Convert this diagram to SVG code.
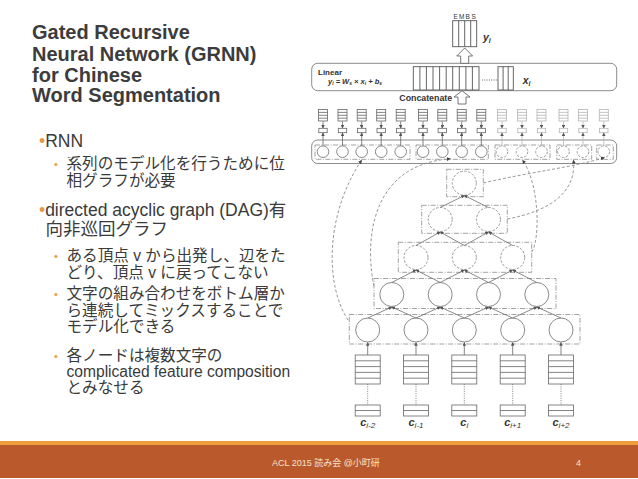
<svg xmlns="http://www.w3.org/2000/svg" xmlns:xlink="http://www.w3.org/1999/xlink" width="638" height="479" viewBox="0 0 638 479">
<style>
.ttl{font-family:"Liberation Sans",Arial,sans-serif;font-weight:bold;font-size:20px;fill:#3c3c3c}
.b1{font-family:"Liberation Sans","Noto Sans CJK JP",sans-serif;font-size:17.5px;fill:#3a3a3a}
.b2{font-family:"Liberation Sans","Noto Sans CJK JP",sans-serif;font-size:15.6px;fill:#3a3a3a}
.or{fill:#E39A43}
.dot{font-family:"Liberation Sans",sans-serif;font-size:11px;fill:#E39A43}
.ft{font-family:"Liberation Sans","Noto Sans CJK JP",sans-serif;font-size:9px;fill:#F6E2D3}
.dg{font-family:"Liberation Sans",sans-serif;fill:#333}
.ln{fill:none;stroke:#6d6d6d;stroke-width:0.8}
.lnd{fill:none;stroke:#555;stroke-width:0.9}
.dd{fill:none;stroke:#8c8c8c;stroke-width:0.8;stroke-dasharray:5 1.5 1 1.5}
.dc{fill:none;stroke:#8c8c8c;stroke-width:0.9;stroke-dasharray:3 2}
.cs{fill:#fff;stroke:#7d7d7d;stroke-width:0.9}
.cd{fill:#fff;stroke:#8c8c8c;stroke-width:0.9;stroke-dasharray:2.5 1.5}
</style>
<defs>
<marker id="ah" viewBox="0 0 6 6" refX="5.5" refY="3" markerWidth="3.5" markerHeight="3.5" orient="auto" markerUnits="userSpaceOnUse"><path d="M0,0L6,3L0,6z" fill="#555"/></marker>
<marker id="ahc" viewBox="0 0 6 6" refX="5.5" refY="3" markerWidth="4" markerHeight="4" orient="auto" markerUnits="userSpaceOnUse"><path d="M0,0L6,3L0,6z" fill="#444"/></marker>
<g id="colA" fill="#fff">
<rect x="-4.5" y="109.5" width="9" height="11.5"/>
<path d="M-4.5,112.4h9M-4.5,115.3h9M-4.5,118.2h9" fill="none"/>
<line x1="0" y1="121.5" x2="0" y2="128.3" marker-end="url(#ah)"/>
<rect x="-4.2" y="128.3" width="8.4" height="4.4"/>
<line x1="0" y1="145.9" x2="0" y2="132.7" marker-end="url(#ah)"/>
</g>
<g id="inp" fill="#fff">
<line x1="0" y1="355" x2="0" y2="342.5" marker-end="url(#ah)"/>
<rect x="-12.5" y="355" width="25" height="29"/>
<path d="M-12.5,360.8h25M-12.5,366.6h25M-12.5,372.4h25M-12.5,378.2h25" fill="none"/>
<line x1="0" y1="384" x2="0" y2="405" stroke-dasharray="1 1.3"/>
<rect x="-12.5" y="405" width="25" height="11"/>
<path d="M-12.5,410.5h25" fill="none"/>
</g>
</defs>
<rect width="638" height="479" fill="#fff"/>

<g id="title" class="ttl">
<text x="32" y="39">Gated Recursive</text>
<text x="32" y="60.5">Neural Network (GRNN)</text>
<text x="32" y="81.5">for Chinese</text>
<text x="32" y="102">Word Segmentation</text>
</g>

<g id="bullets">
<text class="b1" x="39" y="147"><tspan class="or">•</tspan>RNN</text>
<text class="dot" x="54" y="168">•</text>
<text class="b2" x="66.5" y="169">系列のモデル化を行うために位</text>
<text class="b2" x="66.5" y="186">相グラフが必要</text>
<text class="b1" x="39" y="215.5"><tspan class="or">•</tspan>directed acyclic graph (DAG)有</text>
<text class="b1" x="45.5" y="234.5">向非巡回グラフ</text>
<text class="dot" x="54" y="260">•</text>
<text class="b2" x="66.5" y="261">ある頂点 v から出発し、辺をた</text>
<text class="b2" x="66.5" y="277.5">どり、頂点 v に戻ってこない</text>
<text class="dot" x="54" y="298">•</text>
<text class="b2" x="66.5" y="299">文字の組み合わせをボトム層か</text>
<text class="b2" x="66.5" y="315.5">ら連続してミックスすることで</text>
<text class="b2" x="66.5" y="332">モデル化できる</text>
<text class="dot" x="54" y="359.5">•</text>
<text class="b2" x="66.5" y="360.5">各ノードは複数文字の</text>
<text class="b2" x="66.5" y="376.5">complicated feature composition</text>
<text class="b2" x="66.5" y="393">とみなせる</text>
</g>

<g id="output-yi">
<text class="dg" font-size="6.5" text-anchor="middle" y="19"><tspan x="455.7">E</tspan><tspan x="461.7">M</tspan><tspan x="467.7">B</tspan><tspan x="473.7">S</tspan></text>
<rect class="lnd" x="452.7" y="20.7" width="24" height="26"/>
<path class="lnd" d="M458.7,20.7v26M464.7,20.7v26M470.7,20.7v26"/>
<text class="dg" x="483" y="41" font-size="10.5" font-weight="bold" font-style="italic">y<tspan font-size="7" dy="2">i</tspan></text>
</g>

<g id="linear">
<rect class="ln" x="311.7" y="63.3" width="305" height="27.4" rx="6"/>
<text class="dg" x="318" y="74.5" font-size="8" font-weight="bold">Linear</text>
<text class="dg" x="328" y="83.5" font-size="7.5" font-weight="bold" font-style="italic">y<tspan font-size="5" dy="1.5">i</tspan><tspan dy="-1.5"> = W</tspan><tspan font-size="5" dy="1.5">s</tspan><tspan dy="-1.5">  ×  x</tspan><tspan font-size="5" dy="1.5">i</tspan><tspan dy="-1.5"> + b</tspan><tspan font-size="5" dy="1.5">s</tspan></text>
<rect class="lnd" x="413.3" y="66.7" width="65.7" height="23.3" fill="#fff"/>
<path class="lnd" d="M419.9,66.7v23.3M426.4,66.7v23.3M433,66.7v23.3M439.6,66.7v23.3M446.2,66.7v23.3M452.7,66.7v23.3M459.3,66.7v23.3M465.9,66.7v23.3M472.4,66.7v23.3"/>
<line x1="482" y1="80" x2="497" y2="80" stroke="#555" stroke-width="0.9" stroke-dasharray="1 1.3"/>
<rect class="lnd" x="498" y="66.7" width="15.3" height="23.3" fill="#fff"/>
<path class="lnd" d="M503.1,66.7v23.3M508.2,66.7v23.3"/>
<text class="dg" x="522.7" y="84" font-size="10.5" font-weight="bold" font-style="italic">x<tspan font-size="7" dy="2">i</tspan></text>
<text class="dg" x="399.3" y="100.5" font-size="8.8" font-weight="bold">Concatenate</text>
</g>

<g id="hidden-row">
<rect class="ln" x="311.7" y="140" width="305" height="23.5" rx="6"/>
<rect class="dd" x="315" y="145" width="95" height="14.3"/>
<rect class="dd" x="416" y="145" width="72.3" height="14.3"/>
<rect class="dd" x="495" y="145" width="55" height="14.3" stroke="#aaa"/>
<rect class="dd" x="556.7" y="145" width="35" height="14.3" stroke="#aaa"/>
<rect class="dd" x="596.7" y="145" width="16.6" height="14.3" stroke="#aaa"/>
<g stroke="#666" stroke-width="0.8">
<use xlink:href="#colA" x="323"/><use xlink:href="#colA" x="342.5"/><use xlink:href="#colA" x="361.7"/><use xlink:href="#colA" x="381.2"/><use xlink:href="#colA" x="400.7"/><use xlink:href="#colA" x="423"/><use xlink:href="#colA" x="442.3"/><use xlink:href="#colA" x="461.7"/><use xlink:href="#colA" x="481.3"/>
</g>
<g stroke="#b5b5b5" stroke-width="0.8">
<use xlink:href="#colA" x="502"/><use xlink:href="#colA" x="522"/><use xlink:href="#colA" x="541.5"/><use xlink:href="#colA" x="563.5"/><use xlink:href="#colA" x="583"/><use xlink:href="#colA" x="603.8"/>
</g>
<g class="cs">
<circle cx="323" cy="151.7" r="5.8"/><circle cx="342.5" cy="151.7" r="5.8"/><circle cx="361.7" cy="151.7" r="5.8"/><circle cx="381.2" cy="151.7" r="5.8"/><circle cx="400.7" cy="151.7" r="5.8"/><circle cx="423" cy="151.7" r="5.8"/><circle cx="442.3" cy="151.7" r="5.8"/><circle cx="461.7" cy="151.7" r="5.8"/><circle cx="481.3" cy="151.7" r="5.8"/>
</g>
<g class="cd" stroke="#aaa">
<circle cx="502" cy="151.7" r="5.8"/><circle cx="522" cy="151.7" r="5.8"/><circle cx="541.5" cy="151.7" r="5.8"/><circle cx="563.5" cy="151.7" r="5.8"/><circle cx="583" cy="151.7" r="5.8"/><circle cx="603.8" cy="151.7" r="5.8"/>
</g>
</g>

<g id="arrows-hollow" fill="#fff" stroke="#666" stroke-width="0.9">
<path d="M464.7,48L472.7,56H468.7V63.3H460.7V56H456.7Z"/>
<path d="M462,90.8L470,97H466V104H458V97H454Z"/>
</g>

<g id="level1">
<rect class="dd" x="446.7" y="169.3" width="36.6" height="27.4"/>
<circle class="cd" cx="464.3" cy="183.2" r="12"/>
</g>
<g id="level2">
<rect class="dd" x="421.7" y="205.3" width="85.6" height="28"/>
<circle class="cd" cx="440.2" cy="219.5" r="12"/>
<circle class="cd" cx="488.5" cy="219.5" r="12"/>
</g>
<g id="level3">
<rect class="dd" x="398.3" y="242.3" width="133.4" height="30"/>
<circle class="cd" cx="416" cy="257.5" r="12"/>
<circle class="cd" cx="464.3" cy="257.5" r="12"/>
<circle class="cd" cx="512.7" cy="257.5" r="12"/>
</g>
<g id="level4">
<rect class="dd" x="374" y="278.5" width="182" height="30"/>
<circle class="cs" cx="391.8" cy="294.5" r="12"/>
<circle class="cs" cx="440.2" cy="294.5" r="12"/>
<circle class="cs" cx="488.5" cy="294.5" r="12"/>
<circle class="cs" cx="536.8" cy="294.5" r="12"/>
</g>
<g id="level5">
<rect class="dd" x="349.3" y="314.5" width="230.7" height="29.5"/>
<circle class="cs" cx="367.7" cy="330" r="12"/>
<circle class="cs" cx="416" cy="330" r="12"/>
<circle class="cs" cx="464.3" cy="330" r="12"/>
<circle class="cs" cx="512.7" cy="330" r="12"/>
<circle class="cs" cx="561" cy="330" r="12"/>
</g>

<g id="inputs" stroke="#666" stroke-width="0.8">
<use xlink:href="#inp" x="367.7"/><use xlink:href="#inp" x="416"/><use xlink:href="#inp" x="464.3"/><use xlink:href="#inp" x="512.7"/><use xlink:href="#inp" x="561"/>
</g>
<g id="input-labels" class="dg" font-weight="bold" font-style="italic" font-size="11" text-anchor="middle">
<text x="367.7" y="426">c<tspan font-size="8" font-weight="normal" dy="1.5">i-2</tspan></text>
<text x="416" y="426">c<tspan font-size="8" font-weight="normal" dy="1.5">i-1</tspan></text>
<text x="464.3" y="426">c<tspan font-size="8" font-weight="normal" dy="1.5">i</tspan></text>
<text x="512.7" y="426">c<tspan font-size="8" font-weight="normal" dy="1.5">i+1</tspan></text>
<text x="561" y="426">c<tspan font-size="8" font-weight="normal" dy="1.5">i+2</tspan></text>
</g>

<g id="connectors">
<g class="ln" stroke="#808080">
<line x1="367.7" y1="318" x2="391.8" y2="307" marker-end="url(#ah)"/><line x1="416" y1="318" x2="391.8" y2="307" marker-end="url(#ah)"/>
<line x1="416" y1="318" x2="440.2" y2="307" marker-end="url(#ah)"/><line x1="464.3" y1="318" x2="440.2" y2="307" marker-end="url(#ah)"/>
<line x1="464.3" y1="318" x2="488.5" y2="307" marker-end="url(#ah)"/><line x1="512.7" y1="318" x2="488.5" y2="307" marker-end="url(#ah)"/>
<line x1="512.7" y1="318" x2="536.8" y2="307" marker-end="url(#ah)"/><line x1="561" y1="318" x2="536.8" y2="307" marker-end="url(#ah)"/>
<line x1="391.8" y1="282.5" x2="416" y2="270" marker-end="url(#ah)"/><line x1="440.2" y1="282.5" x2="416" y2="270" marker-end="url(#ah)"/>
<line x1="440.2" y1="282.5" x2="464.3" y2="270" marker-end="url(#ah)"/><line x1="488.5" y1="282.5" x2="464.3" y2="270" marker-end="url(#ah)"/>
<line x1="488.5" y1="282.5" x2="512.7" y2="270" marker-end="url(#ah)"/><line x1="536.8" y1="282.5" x2="512.7" y2="270" marker-end="url(#ah)"/>
<line x1="416" y1="245.5" x2="440.2" y2="232" marker-end="url(#ah)"/><line x1="464.3" y1="245.5" x2="440.2" y2="232" marker-end="url(#ah)"/>
<line x1="464.3" y1="245.5" x2="488.5" y2="232" marker-end="url(#ah)"/><line x1="512.7" y1="245.5" x2="488.5" y2="232" marker-end="url(#ah)"/>
<line x1="440.2" y1="207.5" x2="464.3" y2="195.5" marker-end="url(#ah)"/><line x1="488.5" y1="207.5" x2="464.3" y2="195.5" marker-end="url(#ah)"/>
</g>
<g class="dc">
<path d="M348,320C325,285 325,215 361.7,160" marker-end="url(#ahc)"/>
<path d="M374,286C366,250 365,165 450.5,158.8" marker-end="url(#ahc)"/>
<path d="M531.7,252C540,240 540,185 522.5,160" marker-end="url(#ahc)"/>
<path d="M507.3,219C545,212 577,195 573.5,160" marker-end="url(#ahc)"/>
<path d="M483.3,183C530,172 575,167 604.5,157.5" marker-end="url(#ahc)"/>
</g>
</g>

<g id="footer">
<rect x="0" y="441" width="638" height="4" fill="#EE9C3C"/>
<rect x="0" y="445" width="638" height="33" fill="#BA5A2C"/>
<text class="ft" x="272" y="466">ACL 2015 読み会 @小町研</text>
<text class="ft" x="576" y="466" font-size="10">4</text>
</g>
</svg>
